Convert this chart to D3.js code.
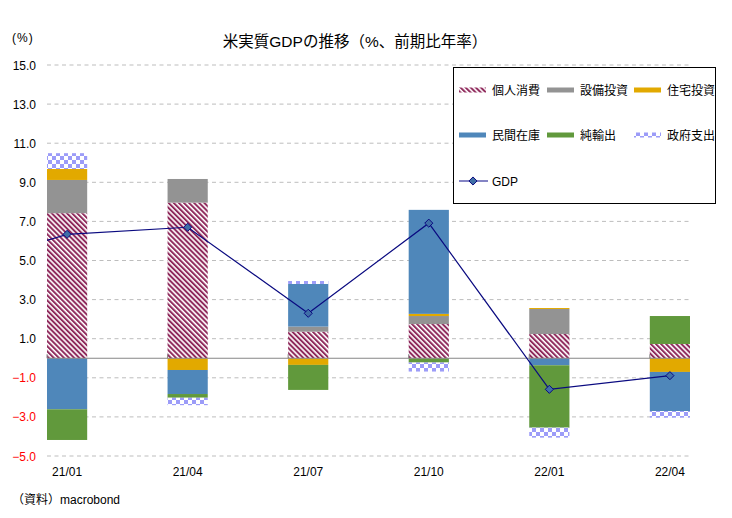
<!DOCTYPE html>
<html>
<head>
<meta charset="utf-8">
<script src="https://cdn.jsdelivr.net/npm/d3@7"></script>
<style>
  body { margin: 0; background: #fff; }
  svg { font-family: "Liberation Sans", "Noto Sans CJK JP", sans-serif; }
</style>
</head>
<body>
<svg id="chart" width="732" height="518"></svg>
<script>
// quarters shown on the axis
var quarters = ["21/01", "21/04", "21/07", "21/10", "22/01", "22/04"];

// contributions (% pts, annualised q/q)
var consumption   = [7.42, 7.96, 1.36, 1.75, 1.24, 0.73];
var equipment     = [1.70, 1.21, 0.26, 0.41, 1.28, 0.00];
var housing       = [0.56, -0.60, -0.34, 0.11, 0.05, -0.70];
var inventories   = [-2.61, -1.23, 2.18, 5.32, -0.36, -2.00];
var netExports    = [-1.57, -0.19, -1.28, -0.22, -3.19, 1.43];
var government    = [0.81, -0.38, 0.15, -0.46, -0.51, -0.34];

// GDP line, plus the 20/10 point that runs in from off the left edge
var gdp = [6.34, 6.70, 2.30, 6.91, -1.59, -0.89];
var prevQuarter = "20/10", prevGdp = 4.5;

var yTicks = [-5, -3, -1, 1, 3, 5, 7, 9, 11, 13, 15];

var seriesNames = ["個人消費", "設備投資", "住宅投資", "民間在庫", "純輸出", "政府支出"];
var seriesFills = ["url(#hatch)", "#939393", "#e2a900", "#4f87ba", "#61993c", "url(#checker)"];

var svg = d3.select("#chart");
// note: "top" is taken by window.top, so plot* names
var plotLeft = 47, plotRight = 690, plotTop = 65, plotBottom = 456;

// months since 21/01, so the axis behaves like a date axis
function monthIndex(q) {
    var p = q.split("/");
    return (+p[0] - 21) * 12 + (+p[1] - 1);
}

var x = d3.scaleLinear().domain([-0.5, 15.5]).range([plotLeft, plotRight]);
var y = d3.scaleLinear().domain([-5, 15]).range([plotBottom, plotTop]);
var barW = x(0.5) - x(-0.5);

var defs = svg.append("defs");
var hatch = defs.append("pattern")
    .attr("id", "hatch")
    .attr("patternUnits", "userSpaceOnUse")
    .attr("width", 3.6).attr("height", 3.6)
    .attr("patternTransform", "rotate(-45)");
hatch.append("rect").attr("width", 3.6).attr("height", 3.6).attr("fill", "#fff");
hatch.append("rect").attr("width", 2).attr("height", 3.6).attr("fill", "#8f2a5c");

var checker = defs.append("pattern")
    .attr("id", "checker")
    .attr("patternUnits", "userSpaceOnUse")
    .attr("width", 8).attr("height", 8);
checker.append("rect").attr("width", 8).attr("height", 8).attr("fill", "#fff");
checker.append("rect").attr("width", 4).attr("height", 4).attr("fill", "#9c9cf8");
checker.append("rect").attr("x", 4).attr("y", 4).attr("width", 4).attr("height", 4).attr("fill", "#9c9cf8");

defs.append("clipPath").attr("id", "plotClip")
    .append("rect").attr("x", plotLeft).attr("y", plotTop)
    .attr("width", plotRight - plotLeft).attr("height", plotBottom - plotTop);

// title and notes
svg.append("text").attr("x", 355).attr("y", 47).attr("text-anchor", "middle")
    .style("font-size", "15.5px").attr("fill", "#000")
    .text("米実質GDPの推移（%、前期比年率）");
svg.append("text").attr("x", 12).attr("y", 42).style("font-size", "12px")
    .style("letter-spacing", "1px")
    .text("(%)");
svg.append("text").attr("x", 12).attr("y", 504).style("font-size", "12px")
    .text("（資料）macrobond");

// grid
svg.append("g").selectAll("line").data(yTicks).enter().append("line")
    .attr("x1", plotLeft).attr("x2", plotRight)
    .attr("y1", function(d){ return y(d); })
    .attr("y2", function(d){ return y(d); })
    .attr("stroke", "#bdbdbd")
    .attr("stroke-dasharray", "4,3.5");

svg.append("g").selectAll("text").data(yTicks).enter().append("text")
    .attr("x", 36).attr("y", function(d){ return y(d) + 4.5; })
    .attr("text-anchor", "end")
    .style("font-size", "12px")
    .attr("fill", function(d){ return d < 0 ? "#ff0000" : "#000"; })
    .text(d3.format(".1f"));

// stacked bars
var table = quarters.map(function(q, i) {
    return {
        q: q,
        "個人消費": consumption[i], "設備投資": equipment[i], "住宅投資": housing[i],
        "民間在庫": inventories[i], "純輸出": netExports[i], "政府支出": government[i]
    };
});
var stacked = d3.stack().keys(seriesNames).offset(d3.stackOffsetDiverging)(table);

var layers = svg.append("g").selectAll("g").data(stacked).enter().append("g")
    .attr("fill", function(d, i){ return seriesFills[i]; });
layers.selectAll("rect").data(function(d){ return d; }).enter().append("rect")
    .attr("x", function(d){ return x(monthIndex(d.data.q)) - barW / 2; })
    .attr("width", barW)
    .attr("y", function(d){ return y(Math.max(d[0], d[1])); })
    .attr("height", function(d){ return Math.abs(y(d[0]) - y(d[1])); });

// zero axis with small ticks at bar edges
svg.append("line").attr("x1", plotLeft).attr("x2", plotRight)
    .attr("y1", y(0)).attr("y2", y(0))
    .attr("stroke", "#868686").attr("stroke-width", 1.2);
svg.append("g").selectAll("line").data(quarters).enter().append("line")
    .attr("x1", function(d){ return x(monthIndex(d) - 0.5); })
    .attr("x2", function(d){ return x(monthIndex(d) - 0.5); })
    .attr("y1", y(0)).attr("y2", y(0) - 4)
    .attr("stroke", "#868686");

svg.append("g").selectAll("text").data(quarters).enter().append("text")
    .attr("x", function(d){ return x(monthIndex(d)); })
    .attr("y", 476)
    .attr("text-anchor", "middle")
    .style("font-size", "12px")
    .text(function(d){ return d; });

// GDP line
var linePts = [{ q: prevQuarter, v: prevGdp }].concat(quarters.map(function(q, i){
    return { q: q, v: gdp[i] };
}));
var line = d3.line()
    .x(function(d){ return x(monthIndex(d.q)); })
    .y(function(d){ return y(d.v); });
svg.append("path").datum(linePts)
    .attr("clip-path", "url(#plotClip)")
    .attr("d", line)
    .attr("fill", "none")
    .attr("stroke", "#0a0a80")
    .attr("stroke-width", 1.2);

var diamond = d3.symbol().type(d3.symbolDiamond2).size(42);
svg.append("g").selectAll("path").data(linePts.slice(1)).enter().append("path")
    .attr("transform", function(d){ return "translate(" + x(monthIndex(d.q)) + "," + y(d.v) + ")"; })
    .attr("d", diamond)
    .attr("fill", "#3f6fa6")
    .attr("stroke", "#0a0a80")
    .attr("stroke-width", 1);

// legend
var legend = svg.append("g");
legend.append("rect")
    .attr("x", 453.5).attr("y", 67.5).attr("width", 262).attr("height", 136)
    .attr("fill", "#fff").attr("stroke", "#000").attr("stroke-width", 1);

var colX = [459, 547, 634];
var rowY = [90, 135];
seriesNames.forEach(function(name, i) {
    var cx = colX[i % 3], cy = rowY[Math.floor(i / 3)];
    legend.append("rect")
        .attr("x", cx).attr("y", cy - 2.5).attr("width", 27).attr("height", 5)
        .attr("fill", seriesFills[i]);
    legend.append("text")
        .attr("x", cx + 33).attr("y", cy + 4.5)
        .style("font-size", "12px")
        .text(name);
});
legend.append("line")
    .attr("x1", 459).attr("x2", 488).attr("y1", 181).attr("y2", 181)
    .attr("stroke", "#5b5bb0").attr("stroke-width", 1.5);
legend.append("path")
    .attr("transform", "translate(473,181)")
    .attr("d", diamond)
    .attr("fill", "#3f6fa6").attr("stroke", "#0a0a80");
legend.append("text")
    .attr("x", 492).attr("y", 185.5)
    .style("font-size", "12px")
    .text("GDP");
</script>
</body>
</html>
